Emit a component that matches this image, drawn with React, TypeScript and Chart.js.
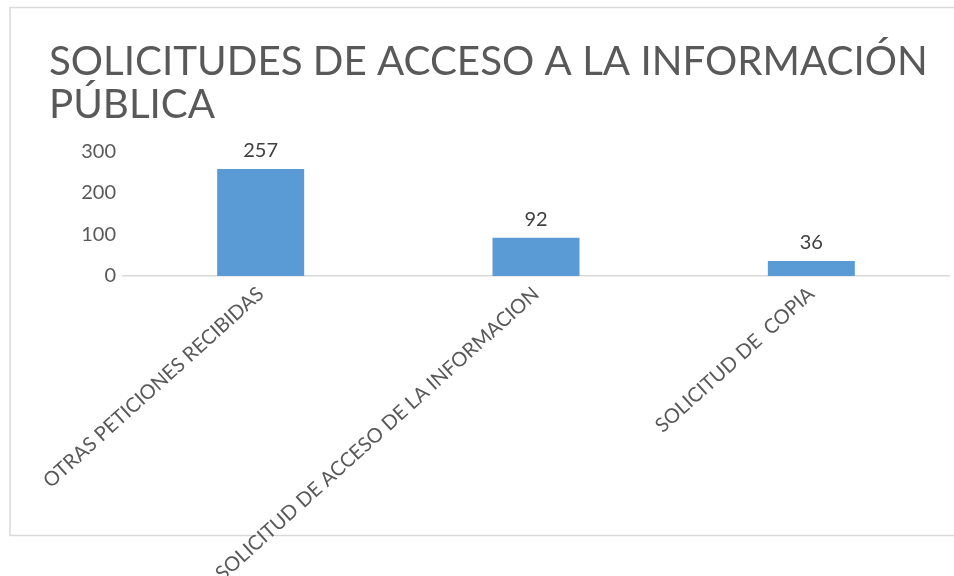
import React, { useEffect, useRef } from "react";
import { Chart, registerables } from "chart.js";

Chart.register(...registerables);

const titleLines = ["SOLICITUDES DE ACCESO A LA INFORMACIÓN", "PÚBLICA"];
const categories = [
  "OTRAS PETICIONES RECIBIDAS",
  "SOLICITUD DE ACCESO DE LA INFORMACION",
  "SOLICITUD DE  COPIA",
];
const values = [257, 92, 36];
const yTicks = [0, 100, 200, 300];

const FONT = "Lato, 'Open Sans', sans-serif";

const frame = {
  id: "frame",
  beforeDraw(chart: any) {
    const ctx = chart.ctx;
    ctx.save();
    ctx.fillStyle = "#ffffff";
    ctx.fillRect(0, 0, chart.width, chart.height);
    ctx.strokeStyle = "#d9d9d9";
    ctx.lineWidth = 1.5;
    ctx.strokeRect(10, 7.5, 960, 528);
    ctx.restore();
  },
};

const dataLabels = {
  id: "dataLabels",
  afterDatasetsDraw(chart: any) {
    const ctx = chart.ctx;
    ctx.save();
    ctx.font = `20px ${FONT}`;
    ctx.fillStyle = "#404040";
    ctx.textAlign = "center";
    ctx.textBaseline = "middle";
    chart.data.datasets.forEach((ds: any, di: number) => {
      const meta = chart.getDatasetMeta(di);
      meta.data.forEach((bar: any, i: number) => {
        ctx.fillText(String(ds.data[i]), bar.x, bar.y - 18);
      });
    });
    ctx.restore();
  },
};

export default function App() {
  const ref = useRef<HTMLCanvasElement>(null);
  useEffect(() => {
    if (!ref.current) return;
    const chart = new Chart(ref.current, {
      type: "bar",
      data: {
        labels: categories,
        datasets: [
          {
            data: values,
            backgroundColor: "#5b9bd5",
            borderWidth: 0,
            barPercentage: 1,
            categoryPercentage: 0.316,
          },
        ],
      },
      plugins: [frame, dataLabels],
      options: {
        animation: false,
        responsive: false,
        maintainAspectRatio: false,
        layout: { padding: { left: 49, right: 5, top: 0, bottom: 0 } },
        plugins: {
          legend: { display: false },
          tooltip: { enabled: false },
          title: {
            display: true,
            text: titleLines,
            align: "start",
            color: "#595959",
            font: { family: FONT, size: 40.3, weight: "normal", lineHeight: 1.08 },
            padding: { top: 40, bottom: 24 },
          },
        },
        scales: {
          x: {
            grid: { display: false, drawTicks: false },
            border: { display: true, color: "#d9d9d9", width: 1.5 },
            ticks: {
              autoSkip: false,
              minRotation: 42,
              maxRotation: 42,
              padding: 6,
              color: "#595959",
              font: { family: FONT, size: 20 },
            },
            afterFit(scale: any) {
              scale.height = 300;
            },
          },
          y: {
            min: 0,
            max: 300,
            afterBuildTicks(scale: any) {
              scale.ticks = yTicks.map((v) => ({ value: v }));
            },
            grid: { display: false, drawTicks: false },
            border: { display: false },
            ticks: {
              padding: 7,
              color: "#595959",
              font: { family: FONT, size: 20 },
            },
            afterFit(scale: any) {
              scale.width = 74;
            },
          },
        },
      },
    });
    return () => chart.destroy();
  }, []);
  return (
    <div style={{ position: "fixed", left: 0, top: 0, width: 954, height: 576, overflow: "hidden" }}>
      <canvas ref={ref} width={954} height={576} style={{ width: 954, height: 576, display: "block" }} />
    </div>
  );
}
